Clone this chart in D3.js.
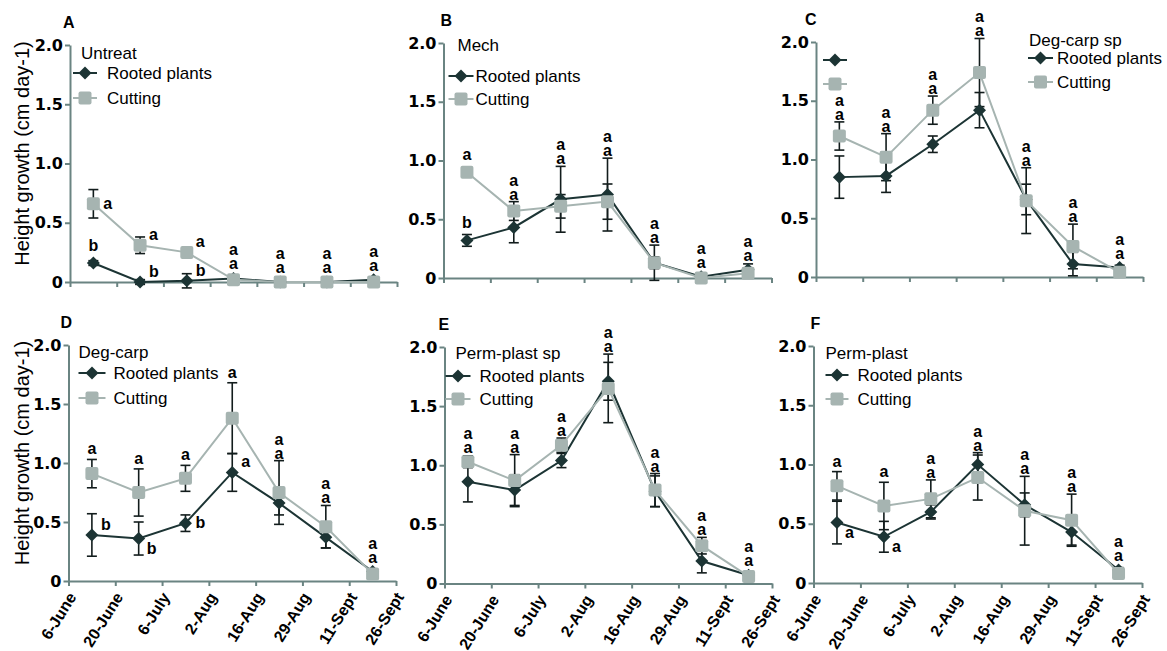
<!DOCTYPE html>
<html>
<head>
<meta charset="utf-8">
<script src="https://cdn.jsdelivr.net/npm/d3@7"></script>
<style>
  body { margin: 0; background: #fff; }
  svg { display: block; }
</style>
</head>
<body>
<script>
// x axis tick labels (boundaries of the sampling periods)
var dates = ["6-June", "20-June", "6-July", "2-Aug", "16-Aug", "29-Aug", "11-Sept", "26-Sept"];
var yTicks = [0, 0.5, 1.0, 1.5, 2.0];

var panelLetters = ["A", "B", "C", "D", "E", "F"];
var treatments = ["Untreat", "Mech", "Deg-carp sp", "Deg-carp", "Perm-plast sp", "Perm-plast"];
var seriesNames = ["Rooted plants", "Cutting"];

// mean height growth (cm day-1) and error bar, one period per value
var rootedA    = [0.16, 0.00, 0.01, 0.03, 0.00, 0.00, 0.02];
var rootedErrA = [0.02, 0.02, 0.06, 0.01, 0.00, 0.00, 0.02];
var cutA       = [0.66, 0.31, 0.25, 0.02, 0.00, 0.00, 0.00];
var cutErrA    = [0.12, 0.07, 0.02, 0.01, 0.00, 0.00, 0.00];

var rootedB    = [0.32, 0.43, 0.67, 0.71, 0.13, 0.01, 0.07];
var rootedErrB = [0.05, 0.13, 0.28, 0.31, 0.15, 0.01, 0.05];
var cutB       = [0.90, 0.57, 0.61, 0.65, 0.13, 0.00, 0.04];
var cutErrB    = [0.02, 0.08, 0.10, 0.15, 0.05, 0.01, 0.02];

var rootedC    = [0.85, 0.86, 1.13, 1.42, 0.66, 0.11, 0.08];
var rootedErrC = [0.18, 0.14, 0.07, 0.15, 0.13, 0.10, 0.02];
var cutC       = [1.20, 1.02, 1.42, 1.74, 0.65, 0.26, 0.04];
var cutErrC    = [0.12, 0.20, 0.12, 0.29, 0.28, 0.19, 0.02];

var rootedD    = [0.39, 0.36, 0.49, 0.92, 0.66, 0.37, 0.08];
var rootedErrD = [0.18, 0.14, 0.07, 0.16, 0.10, 0.09, 0.02];
var cutD       = [0.91, 0.75, 0.87, 1.38, 0.75, 0.46, 0.06];
var cutErrD    = [0.12, 0.20, 0.11, 0.30, 0.27, 0.18, 0.02];

var rootedE    = [0.86, 0.79, 1.04, 1.71, 0.78, 0.19, 0.07];
var rootedErrE = [0.17, 0.13, 0.06, 0.16, 0.13, 0.10, 0.03];
var cutE       = [1.03, 0.87, 1.17, 1.65, 0.79, 0.32, 0.06];
var cutErrE    = [0.05, 0.22, 0.06, 0.29, 0.14, 0.07, 0.02];

var rootedF    = [0.51, 0.39, 0.60, 1.00, 0.66, 0.43, 0.11];
var rootedErrF = [0.18, 0.13, 0.06, 0.10, 0.10, 0.11, 0.02];
var cutF       = [0.82, 0.65, 0.71, 0.89, 0.61, 0.53, 0.08];
var cutErrF    = [0.12, 0.20, 0.16, 0.19, 0.29, 0.22, 0.02];

// significance letters
var sigRootA = ["b", "b", "b", "a", "a", "a", "a"];
var sigCutA  = ["a", "a", "a", "a", "a", "a", "a"];
var sigRootB = ["b", "a", "a", "a", "a", "a", "a"];
var sigCutB  = ["a", "a", "a", "a", "a", "a", "a"];
var sigRootC = ["a", "a", "a", "a", "a", "a", "a"];
var sigCutC  = ["a", "a", "a", "a", "a", "a", "a"];
var sigRootD = ["b", "b", "b", "a", "a", "a", "a"];
var sigCutD  = ["a", "a", "a", "a", "a", "a", "a"];
var sigRootE = ["a", "a", "a", "a", "a", "a", "a"];
var sigCutE  = ["a", "a", "a", "a", "a", "a", "a"];
var sigRootF = ["a", "a", "a", "a", "a", "a", "a"];
var sigCutF  = ["a", "a", "a", "a", "a", "a", "a"];

// where the letters go: "s" = stacked above the point, or [cutting, rooted]
var placeA = [["r", "u"], ["ur", "ur"], ["ur", "ur"], "s", "s", "s", "s"];
var placeB = [["u", "u"], "s", "s", "s", "s", "s", "s"];
var placeC = ["s", "s", "s", "s", "s", "s", "s"];
var placeD = [["u", "ur"], ["u", "dr"], ["u", "r"], ["u", "ur"], "s", "s", "s"];
var placeE = ["s", "s", "s", "s", "s", "s", "s"];
var placeF = [["u", "dr"], ["u", "dr"], "s", "s", "s", "s", "s"];

// panel frames and legend offsets (pixels)
var layout = [
  {left: 70,    top: 45,  right: 397,  bottom: 282,   tag: -7,  leg: {tx: 11,  ty: 8,  r1: 28, r2: 53, lx0: 3,   lx1: 27,  txt: 37}},
  {left: 443.5, top: 43,  right: 771.5, bottom: 278,  tag: -3,  leg: {tx: 14,  ty: 2,  r1: 33, r2: 56, lx0: 5,   lx1: 30,  txt: 32}},
  {left: 816,   top: 42,  right: 1143, bottom: 277,   tag: -11, leg: {tx: 213, ty: -2, r1: 16, r2: 40, lx0: 212, lx1: 237, txt: 241},
     ghost: {lx0: 7, lx1: 31, r1: 18, r2: 42}},
  {left: 68.5,  top: 345, right: 396,  bottom: 581,   tag: -8,  leg: {tx: 10,  ty: 7,  r1: 28, r2: 53, lx0: 10,  lx1: 37,  txt: 45}},
  {left: 444.5, top: 347, right: 772,  bottom: 583.5, tag: -6,  leg: {tx: 11,  ty: 6,  r1: 29, r2: 52, lx0: 1,   lx1: 26,  txt: 35}},
  {left: 813.5, top: 346, right: 1142, bottom: 583,   tag: -3,  leg: {tx: 12,  ty: 7,  r1: 29, r2: 53, lx0: 12,  lx1: 35,  txt: 44}}
];

var panels = [
  {root: rootedA, rootErr: rootedErrA, cut: cutA, cutErr: cutErrA, sigR: sigRootA, sigC: sigCutA, place: placeA},
  {root: rootedB, rootErr: rootedErrB, cut: cutB, cutErr: cutErrB, sigR: sigRootB, sigC: sigCutB, place: placeB},
  {root: rootedC, rootErr: rootedErrC, cut: cutC, cutErr: cutErrC, sigR: sigRootC, sigC: sigCutC, place: placeC},
  {root: rootedD, rootErr: rootedErrD, cut: cutD, cutErr: cutErrD, sigR: sigRootD, sigC: sigCutD, place: placeD},
  {root: rootedE, rootErr: rootedErrE, cut: cutE, cutErr: cutErrE, sigR: sigRootE, sigC: sigCutE, place: placeE},
  {root: rootedF, rootErr: rootedErrF, cut: cutF, cutErr: cutErrF, sigR: sigRootF, sigC: sigCutF, place: placeF}
];

var axisColor = "#6a8482",
    darkColor = "#1c3434",
    lightColor = "#a6b4b1",
    errColor = "#121c1c";

var diamond = "M0,-6.5L6.5,0L0,6.5L-6.5,0Z";

var svg = d3.select("body")
  .append("svg")
    .attr("width", 1167)
    .attr("height", 651);

function drawMarker(g, kind, cx, cy) {
  if (kind === 0) {
    g.append("path")
      .attr("d", diamond)
      .attr("transform", "translate(" + cx + "," + cy + ")")
      .attr("fill", darkColor);
  } else {
    g.append("rect")
      .attr("x", cx - 6.5).attr("y", cy - 6.5)
      .attr("width", 13).attr("height", 13)
      .attr("rx", 2)
      .attr("fill", lightColor);
  }
}

panels.forEach(function(p, k) {
  var L = layout[k];
  var bottomRow = k >= 3;
  var g = svg.append("g");

  // scales: 7 periods between the 8 dates
  var x = d3.scaleLinear().domain([0, 7]).range([L.left, L.right]);
  var y = d3.scaleLinear().domain([0, 2]).range([L.bottom, L.top]);

  // Add X axis
  var xAxis = g.append("g")
    .attr("transform", "translate(0," + L.bottom + ")")
    .call(d3.axisBottom(x)
      .tickValues(d3.range(dates.length))
      .tickSize(5)
      .tickSizeOuter(0)
      .tickFormat(function(i) { return bottomRow ? dates[i] : ""; }));
  xAxis.selectAll("text")
    .attr("x", 0).attr("y", 0).attr("dy", 0)
    .attr("transform", "translate(8,16) rotate(-58)")
    .style("text-anchor", "end")
    .style("font-family", "'Liberation Sans', Arial, sans-serif")
    .style("font-weight", "bold")
    .style("font-size", "16px")
    .attr("fill", "#000");

  // Add Y axis
  var yAxis = g.append("g")
    .attr("transform", "translate(" + L.left + ",0)")
    .call(d3.axisLeft(y)
      .tickValues(yTicks)
      .tickSize(5)
      .tickSizeOuter(0)
      .tickPadding(2)
      .tickFormat(function(d) { return d === 0 ? "0" : d3.format(".1f")(d); }));
  yAxis.selectAll("text")
    .style("font-family", "'DejaVu Sans', sans-serif")
    .style("font-weight", "bold")
    .style("font-size", "16px")
    .attr("fill", "#000");

  g.selectAll(".domain, .tick line")
    .attr("stroke", axisColor)
    .attr("stroke-width", 2);

  // panel letter
  g.append("text")
    .attr("x", L.left + L.tag)
    .attr("y", L.top - 17)
    .style("font-family", "'Liberation Sans', Arial, sans-serif")
    .style("font-weight", "bold")
    .style("font-size", "16px")
    .text(panelLetters[k]);

  // y axis title on the left column
  if (k === 0 || k === 3) {
    g.append("text")
      .attr("transform", "translate(29," + ((L.top + L.bottom) / 2 - 10) + ") rotate(-90)")
      .style("text-anchor", "middle")
      .style("font-family", "'Liberation Sans', Arial, sans-serif")
      .style("font-size", "20px")
      .text("Height growth (cm day-1)");
  }

  var series = [
    {vals: p.root, errs: p.rootErr, color: darkColor},
    {vals: p.cut, errs: p.cutErr, color: lightColor}
  ];

  // error bars
  series.forEach(function(s) {
    s.vals.forEach(function(v, i) {
      var e = s.errs[i];
      if (e <= 0) return;
      var cx = x(i + 0.5);
      g.append("line")
        .attr("x1", cx).attr("x2", cx)
        .attr("y1", y(v - e)).attr("y2", y(v + e))
        .attr("stroke", errColor).attr("stroke-width", 1.6);
      [v - e, v + e].forEach(function(c) {
        g.append("line")
          .attr("x1", cx - 5).attr("x2", cx + 5)
          .attr("y1", y(c)).attr("y2", y(c))
          .attr("stroke", errColor).attr("stroke-width", 1.6);
      });
    });
  });

  // Add the lines
  series.forEach(function(s) {
    g.append("path")
      .datum(s.vals)
      .attr("fill", "none")
      .attr("stroke", s.color)
      .attr("stroke-width", 2)
      .attr("d", d3.line()
        .x(function(d, i) { return x(i + 0.5); })
        .y(function(d) { return y(d); }));
  });

  // markers, cutting drawn on top
  series.forEach(function(s, si) {
    s.vals.forEach(function(v, i) {
      drawMarker(g, si, x(i + 0.5), y(v));
    });
  });

  // significance letters
  var letterStyle = function(t) {
    t.style("font-family", "'Liberation Sans', Arial, sans-serif")
     .style("font-weight", "bold")
     .style("font-size", "16px");
  };
  function seriesTop(vals, errs, i) {
    return Math.min(y(vals[i] + errs[i]), y(vals[i]) - 7);
  }
  p.place.forEach(function(pl, i) {
    var cx = x(i + 0.5);
    if (pl === "s") {
      var top = Math.min(seriesTop(p.root, p.rootErr, i), seriesTop(p.cut, p.cutErr, i));
      [p.sigR[i], p.sigC[i]].forEach(function(t, j) {
        g.append("text")
          .attr("x", cx)
          .attr("y", top - 2 - j * 14)
          .style("text-anchor", "middle")
          .call(letterStyle)
          .text(t);
      });
    } else {
      [[pl[0], p.cut, p.cutErr, p.sigC[i]], [pl[1], p.root, p.rootErr, p.sigR[i]]].forEach(function(a) {
        var code = a[0], vals = a[1], errs = a[2];
        var cy = y(vals[i]);
        var tx = cx, ty, anchor = "start";
        if (code === "u") { ty = seriesTop(vals, errs, i) - 5; anchor = "middle"; }
        else if (code === "r") { tx = cx + 10; ty = cy + 5; }
        else if (code === "ur") { tx = cx + 9; ty = cy - 5; }
        else { tx = cx + 8; ty = cy + 15; }
        g.append("text")
          .attr("x", tx)
          .attr("y", ty)
          .style("text-anchor", anchor)
          .call(letterStyle)
          .text(a[3]);
      });
    }
  });

  // legend
  var leg = L.leg;
  var legFont = function(t) {
    t.style("font-family", "'Liberation Sans', Arial, sans-serif")
     .style("font-size", "17px");
  };
  g.append("text")
    .attr("x", L.left + leg.tx)
    .attr("y", L.top + leg.ty)
    .attr("dy", "0.35em")
    .call(legFont)
    .text(treatments[k]);
  [leg.r1, leg.r2].forEach(function(r, si) {
    var ly = L.top + r;
    g.append("line")
      .attr("x1", L.left + leg.lx0).attr("x2", L.left + leg.lx1)
      .attr("y1", ly).attr("y2", ly)
      .attr("stroke", si === 0 ? darkColor : lightColor)
      .attr("stroke-width", 2);
    drawMarker(g, si, L.left + (leg.lx0 + leg.lx1) / 2, ly);
    g.append("text")
      .attr("x", L.left + leg.txt)
      .attr("y", ly)
      .attr("dy", "0.35em")
      .call(legFont)
      .text(seriesNames[si]);
  });

  // empty legend symbols left in panel C
  if (L.ghost) {
    [L.ghost.r1, L.ghost.r2].forEach(function(r, si) {
      var ly = L.top + r;
      g.append("line")
        .attr("x1", L.left + L.ghost.lx0).attr("x2", L.left + L.ghost.lx1)
        .attr("y1", ly).attr("y2", ly)
        .attr("stroke", si === 0 ? darkColor : lightColor)
        .attr("stroke-width", 2);
      drawMarker(g, si, L.left + (L.ghost.lx0 + L.ghost.lx1) / 2, ly);
    });
  }
});
</script>
</body>
</html>
